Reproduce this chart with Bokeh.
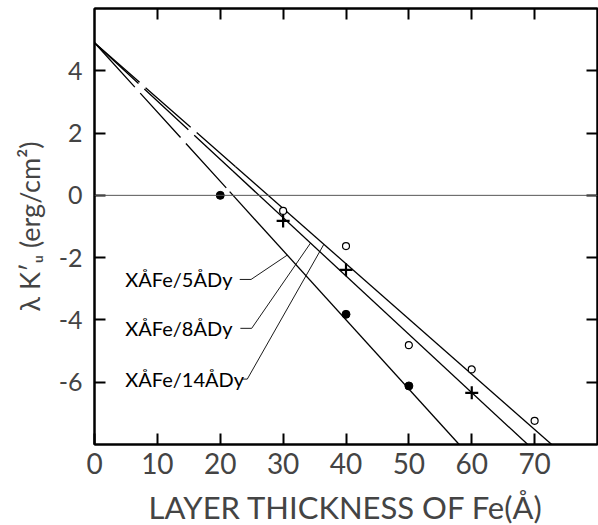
from bokeh.plotting import figure
from bokeh.models import LinearAxis, FixedTicker, Span, Range1d
from bokeh.core.properties import value
from bokeh.embed import file_html
from bokeh.resources import INLINE

# ---- data ----
x_ticks = [0, 10, 20, 30, 40, 50, 60, 70]
y_ticks = [-6, -4, -2, 0, 2, 4]
y_tick_labels = ["-6", "-4", "-2", "0", "2", "4"]

# measured points
dy14_x = [20, 40, 50]
dy14_y = [0.0, -3.82, -6.12]
dy8_x = [30, 40, 60]
dy8_y = [-0.82, -2.39, -6.34]
dy5_x = [30, 40, 50, 60, 70]
dy5_y = [-0.50, -1.63, -4.81, -5.59, -7.24]

# fitted lines (intercept, slope) and where the dashed extrapolation ends
line_names = ["14", "8", "5"]
line_intercepts = [4.9, 4.9, 4.9]
line_slopes = [-0.2224, -0.1872, -0.1774]
dash_end_x = [21.5, 22.0, 22.4]

# labels and their leader lines
label_texts = ["XÅFe/5ÅDy", "XÅFe/8ÅDy", "XÅFe/14ÅDy"]
label_x = [4.9, 4.9, 4.9]
label_y = [-2.70, -4.27, -5.90]
leader_start_x = [23.1, 23.2, 23.5]
leader_knee_x = [24.9, 25.0, 24.3]
leader_target_line = [0, 1, 2]       # index into the fitted lines
leader_end_x = [30.66, 34.36, 36.48]

X_MIN, X_MAX, Y_MIN, Y_MAX = 0, 80, -8, 6
FONT = "Lato"

p = figure(frame_width=503, frame_height=436,
           x_range=Range1d(X_MIN, X_MAX), y_range=Range1d(Y_MIN, Y_MAX),
           output_backend="svg", toolbar_location=None,
           min_border_left=94, min_border_right=1, min_border_top=8,
           min_border_bottom=81)
p.grid.visible = False
p.outline_line_color = "black"
p.outline_line_width = 2
p.background_fill_color = "white"
p.border_fill_color = "white"

# zero line
p.add_layout(Span(location=0, dimension="width", line_color="#555555", line_width=1))

# fitted lines: dashed extrapolation then solid
for b, m, xd in zip(line_intercepts, line_slopes, dash_end_x):
    x_end = (Y_MIN - b) / m
    p.line([0, xd], [b, b + m * xd], line_color="black", line_width=1.3, line_dash="60 8")
    p.line([xd, x_end], [b + m * xd, Y_MIN], line_color="black", line_width=1.3)

# points
p.scatter(dy14_x, dy14_y, marker="circle", size=8, fill_color="black", line_color="black")
p.scatter(dy8_x, dy8_y, marker="cross", size=13, line_color="black", line_width=2.2)
p.scatter(dy5_x, dy5_y, marker="circle", size=7, fill_color="white", line_color="black", line_width=1.2)

# labels
p.text(label_x, label_y, text=label_texts, text_font=value(FONT), text_font_size="20px",
       text_baseline="middle", text_align="left", text_color="black")

for xs, xk, idx, xe, yl in zip(leader_start_x, leader_knee_x, leader_target_line, leader_end_x, label_y):
    ye = line_intercepts[idx] + line_slopes[idx] * xe
    p.line([xs, xk, xe], [yl, yl, ye], line_color="black", line_width=0.9)

# axes
def style_axis(ax, show_labels):
    ax.axis_line_width = 2
    ax.axis_line_color = "black"
    ax.major_tick_in = 11
    ax.major_tick_out = 0
    ax.major_tick_line_width = 2
    ax.minor_tick_line_color = None
    if not show_labels:
        ax.major_label_text_font_size = "0px"
        ax.major_label_text_color = None
        ax.major_label_standoff = 0

xa = p.xaxis[0]
xa.ticker = FixedTicker(ticks=x_ticks)
style_axis(xa, True)
xa.major_label_text_font = FONT
xa.major_label_text_font_size = "28px"
xa.major_label_standoff = 8
xa.axis_label = "LAYER THICKNESS OF Fe(Å)"
xa.axis_label_text_font = FONT
xa.axis_label_text_font_style = "normal"
xa.axis_label_text_font_size = "31px"
xa.axis_label_standoff = 11

ya = p.yaxis[0]
ya.ticker = FixedTicker(ticks=y_ticks)
style_axis(ya, True)
ya.major_label_overrides = {t: s for t, s in zip(y_ticks, y_tick_labels)}
ya.major_label_text_font = FONT
ya.major_label_text_font_size = "25px"
ya.major_label_standoff = 12
ya.axis_label = "λ K′ᵤ (erg/cm²)"
ya.axis_label_text_font = FONT
ya.axis_label_text_font_style = "normal"
ya.axis_label_text_font_size = "27px"
ya.axis_label_standoff = 10

top = LinearAxis(ticker=FixedTicker(ticks=x_ticks[1:]))
style_axis(top, False)
p.add_layout(top, "above")
right = LinearAxis(ticker=FixedTicker(ticks=y_ticks))
style_axis(right, False)
p.add_layout(right, "right")

open("out.html", "w").write(file_html(p, INLINE))
